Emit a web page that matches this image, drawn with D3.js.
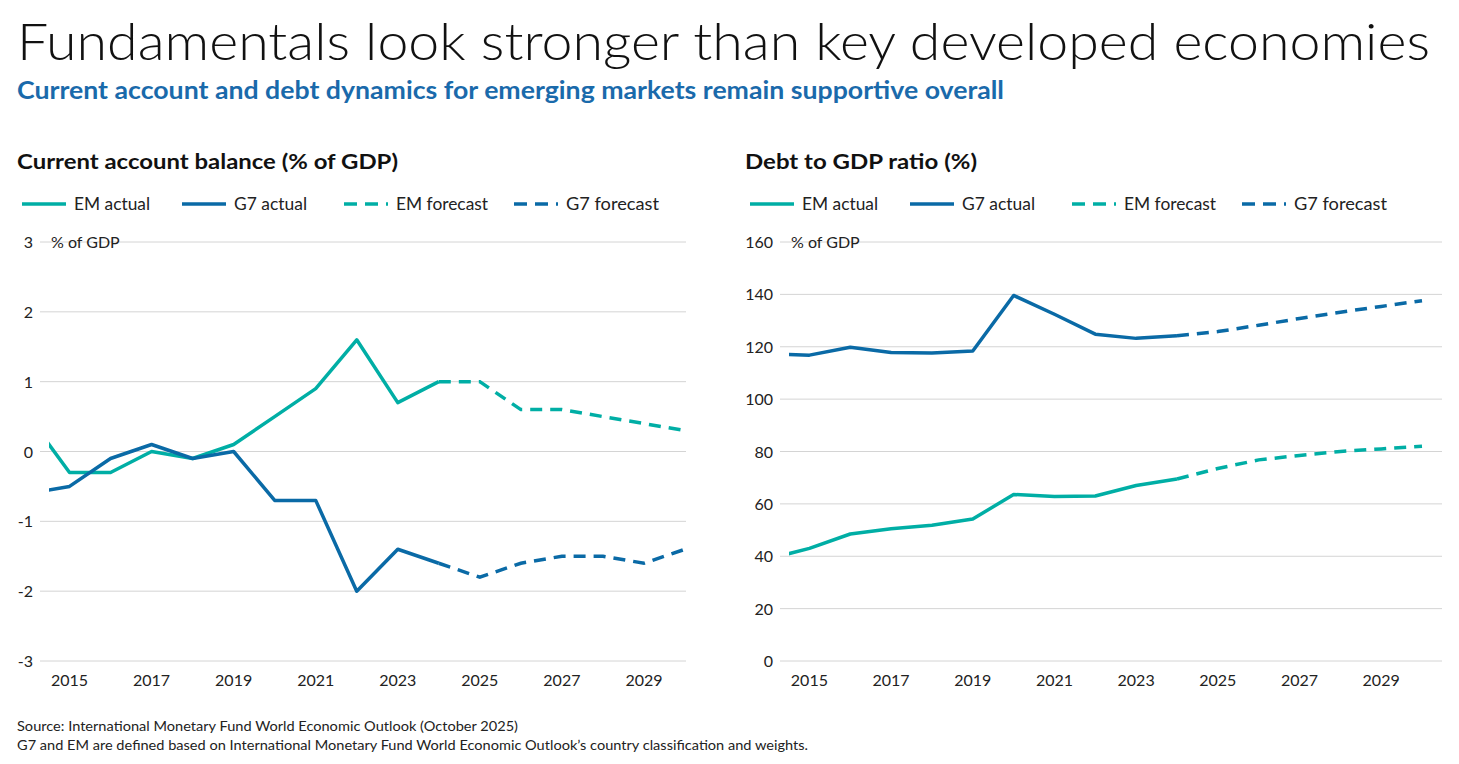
<!DOCTYPE html>
<html><head><meta charset="utf-8">
<script src="https://cdn.jsdelivr.net/npm/d3@7"></script>
<style>body{margin:0;background:#fff;font-family:Lato,"Open Sans",sans-serif}</style>
</head><body><svg id="c" width="1459" height="764"></svg>
<script>
const years = d3.range(2014, 2031);
const caEM = [0.5,-0.3,-0.3,0.0,-0.1,0.1,0.5,0.9,1.6,0.7,1.0,1.0,0.6,0.6,0.5,0.4,0.3];
const caG7 = [-0.6,-0.5,-0.1,0.1,-0.1,0.0,-0.7,-0.7,-2.0,-1.4,-1.6,-1.8,-1.6,-1.5,-1.5,-1.6,-1.4];
const debtEM = [39,43,48.5,50.5,51.8,54.2,63.6,62.8,63,67,69.5,73.5,76.8,78.5,80,81,82];
const debtG7 = [117.2,116.8,119.8,117.8,117.6,118.4,139.6,132.4,124.8,123.2,124.2,125.8,128.2,130.8,133.2,135.4,137.6];
const forecastStart = 2024;
const xTicks = [2015,2017,2019,2021,2023,2025,2027,2029];
const caTicks = [-3,-2,-1,0,1,2,3];
const debtTicks = [0,20,40,60,80,100,120,140,160];
const legendItems = ["EM actual","G7 actual","EM forecast","G7 forecast"];
const TEAL="#00aea5", BLUE="#0a6aa6";

const svg=d3.select("#c");
function txt(x,y,size,weight,fill,s,len){
  const t=svg.append("text").attr("x",x).attr("y",y).attr("font-size",size).attr("font-weight",weight).attr("fill",fill).text(s);
  if(len) t.attr("textLength",len).attr("lengthAdjust","spacingAndGlyphs");
  return t;
}
txt(17,60,51,300,"#111","Fundamentals look stronger than key developed economies",1413);
txt(17,99,24,700,"#1a6aab","Current account and debt dynamics for emerging markets remain supportive overall",987);
txt(17,731,13,400,"#222","Source: International Monetary Fund World Economic Outlook (October 2025)",501);
txt(17,750,13,400,"#222","G7 and EM are defined based on International Monetary Fund World Economic Outlook’s country classification and weights.",791);

function panel(o){
  const g=svg.append("g");
  txt(o.x0,169,21,700,"#111",o.title,o.tlen);
  const lx=[0,160,322,492], tl=[76,73,92,93];
  legendItems.forEach((t,i)=>{
    const c=i%2===0?TEAL:BLUE, dash=i>=2;
    g.append("line").attr("x1",o.x0+5+lx[i]).attr("x2",o.x0+49+lx[i]).attr("y1",204).attr("y2",204)
      .attr("stroke",c).attr("stroke-width",3.5).attr("stroke-dasharray",dash?"13,8":null);
    g.append("text").attr("x",o.x0+57+lx[i]).attr("y",210).attr("font-size",16.5).attr("fill","#222")
      .attr("textLength",tl[i]).attr("lengthAdjust","spacingAndGlyphs").text(t);
  });
  const x=d3.scaleLinear().domain([2014.5,2030]).range(o.xr);
  const y=d3.scaleLinear().domain(o.yd).range([661,242]);
  o.ticks.forEach(t=>{
    g.append("line").attr("x1",o.gx[0]).attr("x2",o.gx[1]).attr("y1",y(t)).attr("y2",y(t)).attr("stroke","#d4d4d4");
    g.append("text").attr("x",o.lblx).attr("y",y(t)+6).attr("text-anchor","end").attr("font-size",16).attr("fill","#222").text(t);
  });
  g.append("text").attr("x",o.lblx+18).attr("y",y(o.ticks[o.ticks.length-1])+6).attr("font-size",16).attr("fill","#222").text("% of GDP");
  xTicks.forEach(t=>g.append("text").attr("x",x(t)).attr("y",686).attr("text-anchor","middle").attr("font-size",16).attr("fill","#222").text(t));
  const id="clip"+o.x0;
  svg.append("clipPath").attr("id",id).append("rect").attr("x",o.xr[0]).attr("y",0).attr("width",o.xr[1]-o.xr[0]+5).attr("height",764);
  const lg=g.append("g").attr("clip-path",`url(#${id})`);
  const line=d3.line().x(d=>x(d[0])).y(d=>y(d[1]));
  [[o.em,TEAL],[o.g7,BLUE]].forEach(([vals,c])=>{
    const pts=years.map((yr,i)=>[yr,vals[i]]);
    lg.append("path").attr("d",line(pts.filter(p=>p[0]<=forecastStart))).attr("fill","none").attr("stroke",c).attr("stroke-width",3.5).attr("stroke-linejoin","round");
    lg.append("path").attr("d",line(pts.filter(p=>p[0]>=forecastStart))).attr("fill","none").attr("stroke",c).attr("stroke-width",3.5).attr("stroke-dasharray","12,8");
  });
}
panel({x0:17,title:"Current account balance (% of GDP)",tlen:381,xr:[49,685],gx:[40,686],yd:[-3,3],ticks:caTicks,lblx:33,em:caEM,g7:caG7});
panel({x0:745,title:"Debt to GDP ratio (%)",tlen:232,xr:[789,1422],gx:[780,1442],yd:[0,160],ticks:debtTicks,lblx:773,em:debtEM,g7:debtG7});
</script></body></html>
